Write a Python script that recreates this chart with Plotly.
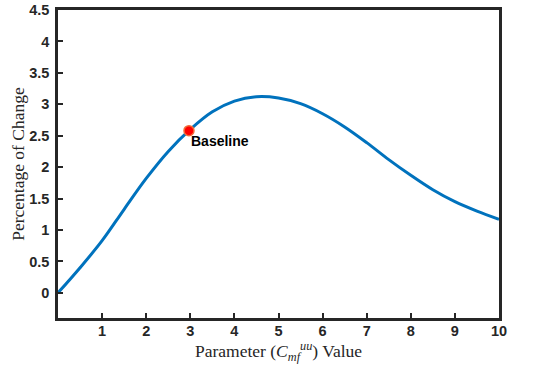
import plotly.graph_objects as go

# curve values
x_vals = [0, 0.5, 1, 1.5, 2, 2.5, 3, 3.5, 4, 4.5, 5, 5.5, 6, 6.5, 7, 7.5, 8, 8.5, 9, 9.5, 10]
y_vals = [0, 0.40, 0.83, 1.33, 1.82, 2.25, 2.60, 2.88, 3.05, 3.12, 3.10, 3.01, 2.85, 2.64, 2.39, 2.12, 1.87, 1.64, 1.45, 1.30, 1.17]

base_x = [2.97]
base_y = [2.58]
base_label = ["Baseline"]

x_ticks = [1, 2, 3, 4, 5, 6, 7, 8, 9, 10]
y_ticks = [0, 0.5, 1, 1.5, 2, 2.5, 3, 3.5, 4, 4.5]

AXIS = "#262626"
tick_font = dict(family="Liberation Sans, Arial, sans-serif", size=14.5, color=AXIS)
title_font = dict(family="Liberation Serif, DejaVu Serif, serif", size=17.5, color=AXIS)

fig = go.Figure()
fig.add_trace(go.Scatter(
    x=x_vals, y=y_vals, mode="lines", line=dict(color="#0072BD", width=3, shape="spline"),
    showlegend=False, hoverinfo="skip"))
fig.add_trace(go.Scatter(
    x=base_x, y=base_y, mode="markers",
    marker=dict(color="#FF0000", size=10, line=dict(color="#F26B38", width=1.5)), showlegend=False))
fig.add_annotation(x=base_x[0], y=base_y[0], text="<b>%s</b>" % base_label[0], showarrow=False,
                   xanchor="left", yanchor="top", xshift=0, yshift=0,
                   font=dict(family="Liberation Sans, Arial, sans-serif", size=14, color="black"))

fig.update_xaxes(
    range=[0, 10], tickvals=x_ticks, ticktext=["<b>%d</b>" % v for v in x_ticks],
    ticks="inside", ticklen=5, tickwidth=2, tickcolor=AXIS, ticklabelstandoff=-2,
    ticklabeloverflow="allow",
    showline=True, linewidth=2.5, linecolor=AXIS, mirror=True, automargin=False,
    showgrid=False, zeroline=False, tickfont=tick_font,
    title=dict(text="Parameter (<i>C</i><sub><i>mf</i></sub><sup><i>uu</i></sup>) Value", font=title_font, standoff=2))
fig.update_yaxes(
    range=[-0.4, 4.5], tickvals=y_ticks, ticktext=["<b>%g</b>" % v for v in y_ticks],
    ticks="inside", ticklen=5, tickwidth=2, tickcolor=AXIS, ticklabelstandoff=3,
    ticklabeloverflow="allow",
    showline=True, linewidth=2.5, linecolor=AXIS, mirror=True, automargin=False,
    showgrid=False, zeroline=False, tickfont=tick_font,
    title=dict(text="Percentage of Change", font=title_font, standoff=1))

fig.update_layout(
    width=533, height=366,
    margin=dict(l=58, r=34, t=10, b=48),
    paper_bgcolor="white", plot_bgcolor="white")

# drop the page's default body margin so the figure sits at the window corner
fig.write_html("out.html", config={"displayModeBar": False},
               post_script="document.body.style.margin='0';")
